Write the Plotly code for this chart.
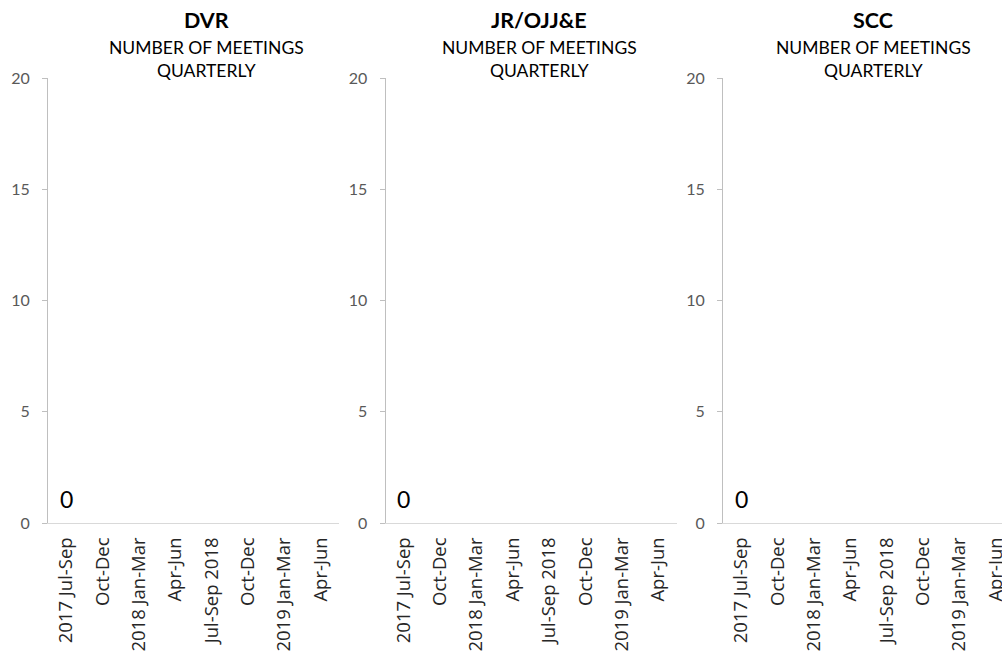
import plotly.graph_objects as go

# naslovi panela
groups = ['DVR', 'JR/OJJ&E', 'SCC']
subtitle = 'NUMBER OF MEETINGS<br>QUARTERLY'
quarters = ['2017 Jul-Sep', 'Oct-Dec', '2018 Jan-Mar', 'Apr-Jun',
            'Jul-Sep 2018', 'Oct-Dec', '2019 Jan-Mar', 'Apr-Jun']
dvr_meetings = [0, None, None, None, None, None, None, None]
jr_meetings = [0, None, None, None, None, None, None, None]
scc_meetings = [0, None, None, None, None, None, None, None]
y_ticks = [0, 5, 10, 15, 20]

W, H = 1002, 660
FONT = 'Lato'
# pozicije panela u pikselima
panel_left = [48, 385.5, 723]
panel_w = 291
cat_w = panel_w / 8
title_x = [206, 539, 873]
y_top, y_bot = 78, 523

fig = go.Figure()
series = [dvr_meetings, jr_meetings, scc_meetings]

for i, (name, vals) in enumerate(zip(groups, series)):
    n = '' if i == 0 else str(i + 1)
    x0 = panel_left[i]
    x1 = min(x0 + panel_w, W)
    xr_max = -0.5 + (x1 - x0) / cat_w
    fig.add_trace(go.Scatter(x=list(range(len(quarters))), y=vals, mode='lines',
                             line=dict(color='#4472c4', width=2), showlegend=False,
                             xaxis='x' + n, yaxis='y' + n, hoverinfo='skip'))
    fig.update_layout(**{
        'xaxis' + n: dict(domain=[x0 / W, x1 / W], range=[-0.5, xr_max],
                          tickvals=list(range(len(quarters))), ticktext=quarters,
                          tickangle=-90, showline=True, linecolor='#d9d9d9', linewidth=1,
                          showgrid=False, zeroline=False, ticks='', automargin=False,
                          ticklabelstandoff=6, ticklabeloverflow='allow',
                          tickfont=dict(family='Open Sans', size=18.5, color='#262626'),
                          anchor='y' + n, fixedrange=True),
        'yaxis' + n: dict(domain=[(H - y_bot) / H, (H - y_top) / H], range=[0, 20],
                          tickvals=y_ticks, showline=True, linecolor='#bfbfbf', linewidth=1,
                          ticks='outside', ticklen=5, tickcolor='#bfbfbf',
                          showgrid=False, zeroline=False, ticklabelstandoff=9,
                          automargin=False,
                          tickfont=dict(family=FONT, size=16, color='#595959'),
                          anchor='x' + n, fixedrange=True),
    })
    # oznake podataka
    for k, v in enumerate(vals):
        if v is not None:
            fig.add_annotation(x=k, y=v, xref='x' + n, yref='y' + n, text=str(v),
                               showarrow=False, yshift=24, xanchor='center',
                               font=dict(family=FONT, size=23, color='#000'))
    fig.add_annotation(x=title_x[i] / W, y=1 - 20 / H, xref='paper', yref='paper',
                       text='<b>' + name + '</b>', showarrow=False, yanchor='middle',
                       xanchor='center',
                       font=dict(family=FONT, size=21.5, color='#000'))
    fig.add_annotation(x=title_x[i] / W, y=1 - 59 / H, xref='paper', yref='paper',
                       text=subtitle, showarrow=False, yanchor='middle',
                       xanchor='center', align='center',
                       font=dict(family=FONT, size=17.5, color='#000'))

fig.update_layout(width=W, height=H, margin=dict(l=0, r=0, t=0, b=0),
                  paper_bgcolor='white', plot_bgcolor='white', showlegend=False)
# bez margine na body da graf krene od 0,0
fig.write_html('out.html', config={'displayModeBar': False},
               post_script="document.body.style.margin='0';")
